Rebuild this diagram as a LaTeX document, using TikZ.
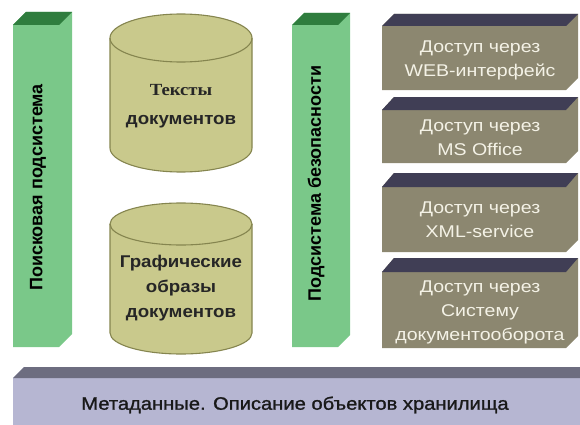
\documentclass[tikz,border=0pt]{standalone}
\usepackage{fontspec}
\setmainfont{Liberation Sans}
\newfontfamily\wide[FakeStretch=1.15]{Liberation Sans}
\newfontfamily\widem[FakeStretch=1.12,FakeBold=1.2]{Liberation Sans}
\newfontfamily\wideb[FakeStretch=1.1]{Liberation Sans}
\newfontfamily\serifw[FakeStretch=1.1]{Liberation Serif}
\definecolor{grfront}{HTML}{7AC889}
\definecolor{grtop}{HTML}{2F7D3E}
\definecolor{gyfront}{HTML}{8C8770}
\definecolor{gytop}{HTML}{403E55}
\definecolor{lvfront}{HTML}{B6B6D2}
\definecolor{lvtop}{HTML}{6D6D80}
\definecolor{cylfill}{HTML}{C9C98C}
\definecolor{cylline}{HTML}{85854F}
\definecolor{boxtext}{HTML}{F4F2E6}
\tikzset{
  vtext/.style={font=\bfseries\fontsize{18}{20}\selectfont, text=black, rotate=90, inner sep=0},
  btext/.style={font=\wide\fontsize{17}{24}\selectfont, text=boxtext, align=center, inner sep=0},
  ctext/.style={font=\wideb\bfseries\fontsize{17}{25}\selectfont, text=black!85, align=center, inner sep=0},
  cyl/.style={fill=cylfill, draw=cylline, line width=1.1pt},
}
\begin{document}
\begin{tikzpicture}[x=1pt,y=1pt]
\useasboundingbox (0,0) rectangle (580,424);
\begin{scope}
\clip (0,0) rectangle (580,424);
% left green bar
\fill[grfront] (13,399) -- (26,412) -- (72,412) -- (72,90) -- (59,77) -- (13,77) -- cycle;
\fill[grtop] (13,399) -- (26,412) -- (72,412) -- (59,399) -- cycle;
\node[vtext] (search) at (38,236.5) {Поисковая подсистема};
% right green bar
\fill[grfront] (292,399) -- (304,411) -- (350,411) -- (350,89) -- (338,77) -- (292,77) -- cycle;
\fill[grtop] (292,399) -- (304,411) -- (350,411) -- (338,399) -- cycle;
\node[vtext] (security) at (316,240.5) {Подсистема безопасности};
% gray boxes
\fill[gyfront] (382,398) -- (394,410) -- (578,410) -- (578,346) -- (566,334) -- (382,334) -- cycle;
\fill[gytop] (382,398) -- (394,410) -- (578,410) -- (566,398) -- cycle;
\node[btext] (web) at (480,364) {Доступ через\\WEB-интерфейс};
\fill[gyfront] (382,314) -- (394,327) -- (578,327) -- (578,273) -- (566,261) -- (382,261) -- cycle;
\fill[gytop] (382,314) -- (394,327) -- (578,327) -- (566,314) -- cycle;
\node[btext] (office) at (480,286.5) {Доступ через\\MS Office};
\fill[gyfront] (382,237) -- (394,251) -- (578,251) -- (578,184) -- (566,172) -- (382,172) -- cycle;
\fill[gytop] (382,237) -- (394,251) -- (578,251) -- (566,237) -- cycle;
\node[btext] (xml) at (480,204.5) {Доступ через\\XML-service};
\fill[gyfront] (382,152) -- (394,166) -- (578,166) -- (578,88) -- (566,76) -- (382,76) -- cycle;
\fill[gytop] (382,152) -- (394,166) -- (578,166) -- (566,152) -- cycle;
\node[btext] (sed) at (480,112) {Доступ через\\Систему\\документооборота};
% bottom bar
\fill[lvfront] (13,46) -- (24,57) -- (590,57) -- (590,-10) -- (13,-10) -- cycle;
\fill[lvtop] (13,46) -- (24,57) -- (590,57) -- (590,46) -- cycle;
\node[font=\widem\fontsize{18}{20}\selectfont, text=black!90, inner sep=0] (meta) at (295,19) {Метаданные. Описание объектов хранилища};
% cylinders
\path[cyl] (110,386) -- (110,276) arc (180:360:71 and 24) -- (252,386) arc (0:180:71 and 24) -- cycle;
\draw[cylline, line width=1.1pt] (110,386) arc (180:360:71 and 24);
\node[font=\serifw\bfseries\fontsize{17}{20}\selectfont, text=black!85, inner sep=0] (texts1) at (181,334) {Тексты};
\node[ctext] (texts2) at (181,302) {документов};
\path[cyl] (110,200) -- (110,91) arc (180:360:71 and 21) -- (252,200) arc (0:180:71 and 21) -- cycle;
\draw[cylline, line width=1.1pt] (110,200) arc (180:360:71 and 21);
\node[ctext] (images) at (181,136) {Графические\\образы\\документов};
\end{scope}
\end{tikzpicture}
\end{document}
